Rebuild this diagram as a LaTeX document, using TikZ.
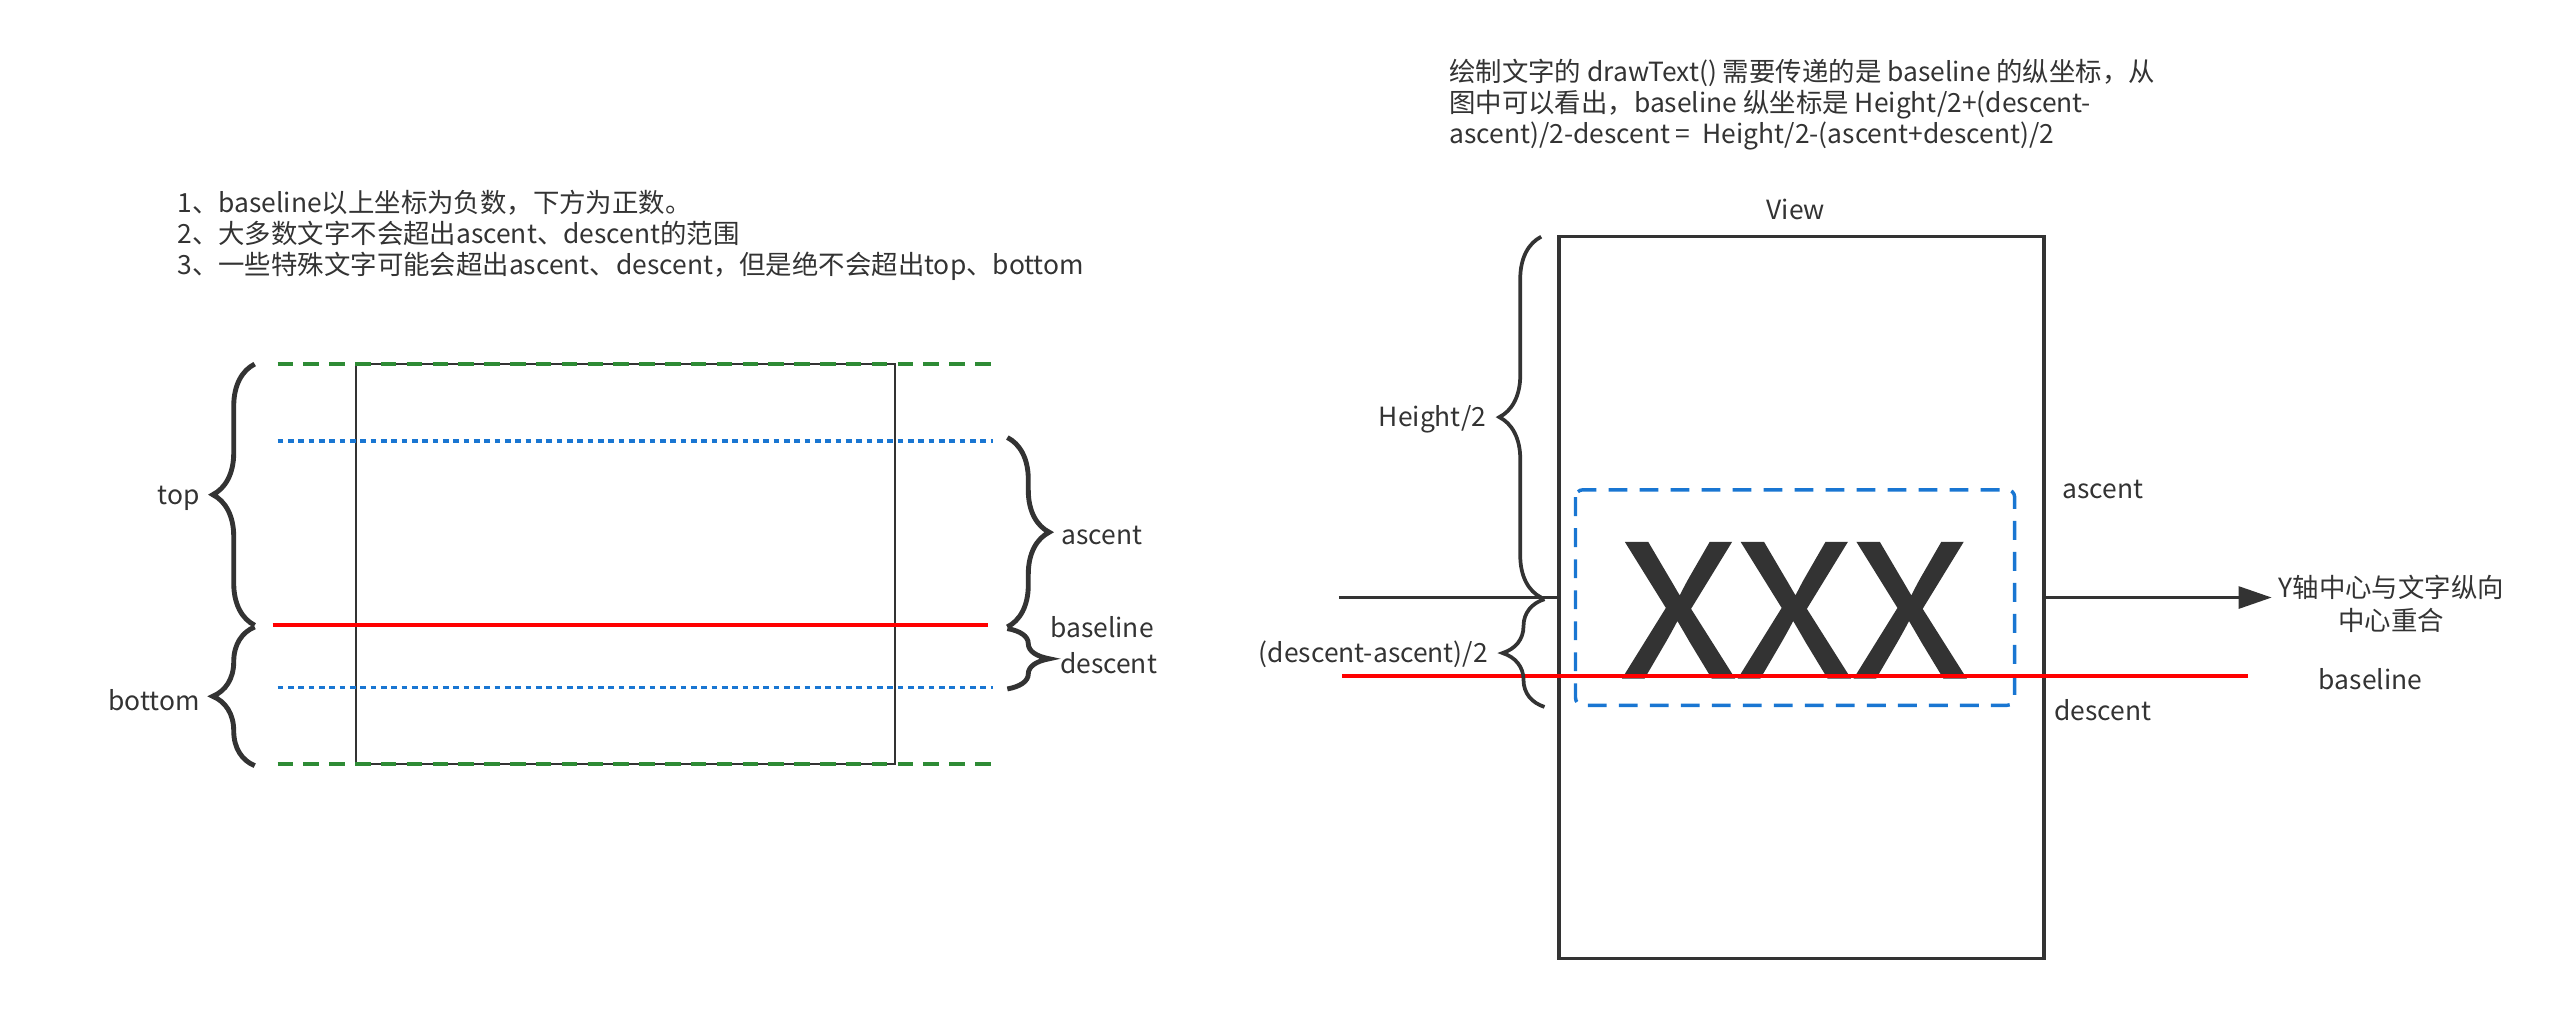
\documentclass[tikz,border=0pt]{standalone}
\usepackage{fontspec}
\usepackage{graphicx}
\setmainfont{Noto Sans CJK SC}
\newfontfamily\bigletters[FakeBold=1.2]{Noto Sans CJK SC}
\usetikzlibrary{decorations.pathreplacing,arrows.meta}
\definecolor{ink}{HTML}{333333}
\definecolor{lineblue}{HTML}{1976D2}
\definecolor{linegreen}{HTML}{2E8B35}

\begin{document}
\begin{tikzpicture}[x=0.01cm, y=-0.01cm,
  every node/.style={font=\fontsize{4.6}{5.8}\selectfont, text=ink, inner sep=0pt},
  bracket/.style={decorate, decoration={brace, amplitude=7.3pt}, draw=ink, line width=0.85pt},
  thinbracket/.style={bracket, line width=0.65pt},
  boundline/.style={draw=linegreen, line width=0.6pt, dash pattern=on 2.7pt off 1.8pt},
  metricline/.style={draw=lineblue, line width=0.62pt, dash pattern=on 1pt off 0.8pt},
  redline/.style={draw=red, line width=0.7pt},
  axisline/.style={draw=ink, line width=0.65pt}
]
  \useasboundingbox (0,0) rectangle (1568,619);

  \foreach \txt [count=\i] in {{1、baseline以上坐标为负数，下方为正数。},
      {2、大多数文字不会超出ascent、descent的范围},
      {3、一些特殊文字可能会超出ascent、descent，但是绝不会超出top、bottom}}
    \node[anchor=base west] (note\i) at (108, 111+19*\i) {\txt};

  \draw[ink, line width=0.35pt] (218,223) rectangle (548,468);
  \draw[boundline] (170,223) -- (608,223);
  \draw[boundline] (170,468) -- (608,468);
  \draw[metricline] (170,270) -- (608,270);
  \draw[metricline] (170,421) -- (608,421);
  \draw[redline] (167,383) -- (605,383);

  \draw[bracket] (156,383) -- (156,223);
  \draw[bracket] (156,469) -- (156,384);
  \node[anchor=east] (top) at (123,305) {top};
  \node[anchor=east] (bottom) at (123,429) {bottom};

  \draw[bracket] (617,268) -- (617,384);
  \draw[bracket] (617,385) -- (617,422);
  \node (ascent) at (675,328) {ascent};
  \node (baseline) at (675,384) {baseline};
  \node (descent) at (679,406) {descent};

  \foreach \txt [count=\i] in {{绘制文字的 drawText() 需要传递的是 baseline 的纵坐标，从},
      {图中可以看出，baseline 纵坐标是 Height/2+(descent-},
      {ascent)/2-descent =\ \ Height/2-(ascent+descent)/2}}
    \node[anchor=base west] (head\i) at (887, 31+19*\i) {\txt};

  \node[draw=ink, line width=0.65pt, minimum width=2.97cm, minimum height=4.42cm] (view) at (1103.5,366) {};
  \node (viewname) at (1100,128) {View};
  \draw[lineblue, line width=0.6pt, dash pattern=on 3.3pt off 2.1pt, rounded corners=1.3pt] (965,300) rectangle (1234,432);
  \node[anchor=base, font=\fontsize{32}{32}\bigletters] (xxx) at (1099,415) {\scalebox{1.1}[1]{XXX}};
  \draw[redline] (822,414) -- (1377,414);

  \coordinate (axisstart) at (820,366);
  \node[anchor=west, align=center] (ycenter) at (1395,370) {Y轴中心与文字纵向\\中心重合};
  \draw[axisline] (axisstart) -- (view.west);
  \draw[axisline, -{Triangle[length=5.8pt,width=3.8pt]}] (view.east) -- ([xshift=-1pt]ycenter.west |- view.east);

  \draw[thinbracket] (944,366) -- (944,145);
  \draw[thinbracket] (946,433) -- (946,367);
  \node[anchor=east] (halfheight) at (911,257) {Height/2};
  \node[anchor=east] (halfdiff) at (912,401) {(descent-ascent)/2};

  \node (ascentR) at (1288,300) {ascent};
  \node (descentR) at (1288,435) {descent};
  \node (baselineR) at (1452,416) {baseline};
\end{tikzpicture}
\end{document}
